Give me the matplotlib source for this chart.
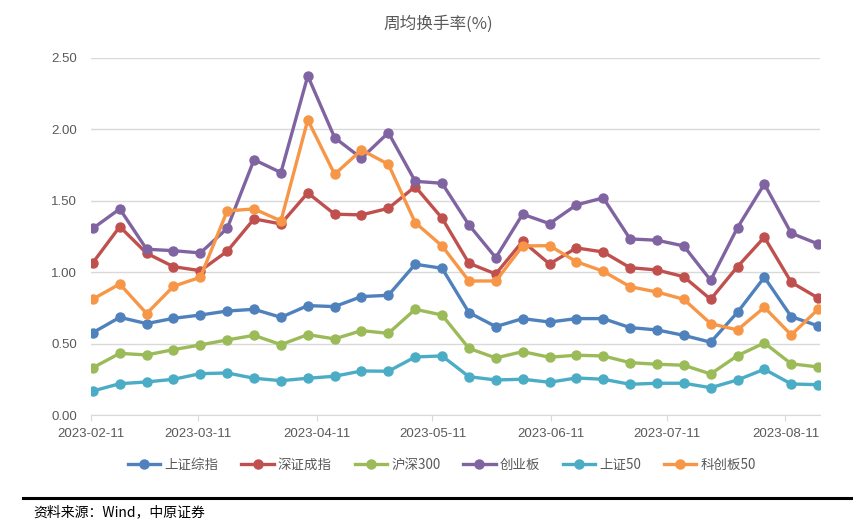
import numpy as np
import pandas as pd
import matplotlib
matplotlib.use('Agg')
import matplotlib.pyplot as plt
import matplotlib.dates as mdates

plt.rcParams['font.family'] = ['Liberation Sans', 'Noto Sans CJK SC', 'DejaVu Sans']

# 周度日期（周六）
dates = pd.date_range('2023-02-11', periods=28, freq='7D')

names = ['上证综指', '深证成指', '沪深300', '创业板', '上证50', '科创板50']
colors = ['#4F81BD', '#C0504D', '#9BBB59', '#8064A2', '#4BACC6', '#F79646']

sh_comp = [0.578, 0.685, 0.641, 0.678, 0.701, 0.729, 0.741, 0.685, 0.767, 0.760,
           0.830, 0.839, 1.056, 1.028, 0.718, 0.620, 0.676, 0.652, 0.676, 0.676,
           0.613, 0.597, 0.559, 0.511, 0.720, 0.965, 0.690, 0.625]
sz_comp = [1.067, 1.319, 1.133, 1.039, 1.011, 1.147, 1.373, 1.338, 1.555, 1.406,
           1.401, 1.447, 1.599, 1.378, 1.063, 0.988, 1.217, 1.058, 1.170, 1.142,
           1.032, 1.016, 0.969, 0.811, 1.039, 1.245, 0.930, 0.820]
hs300 = [0.333, 0.433, 0.422, 0.459, 0.492, 0.527, 0.559, 0.494, 0.564, 0.534,
         0.592, 0.573, 0.741, 0.701, 0.468, 0.401, 0.445, 0.406, 0.420, 0.415,
         0.368, 0.357, 0.350, 0.289, 0.417, 0.506, 0.360, 0.338]
chinext = [1.307, 1.443, 1.161, 1.151, 1.135, 1.307, 1.787, 1.697, 2.373, 1.941,
           1.797, 1.976, 1.636, 1.622, 1.331, 1.102, 1.406, 1.340, 1.471, 1.520,
           1.233, 1.224, 1.184, 0.944, 1.312, 1.617, 1.273, 1.198]
sh50 = [0.170, 0.221, 0.233, 0.252, 0.291, 0.296, 0.259, 0.242, 0.259, 0.273,
        0.310, 0.308, 0.408, 0.415, 0.270, 0.247, 0.252, 0.231, 0.261, 0.252,
        0.217, 0.224, 0.224, 0.193, 0.247, 0.322, 0.219, 0.214]
star50 = [0.813, 0.918, 0.711, 0.902, 0.965, 1.429, 1.443, 1.359, 2.065, 1.685,
          1.855, 1.755, 1.347, 1.184, 0.939, 0.939, 1.184, 1.186, 1.074, 1.007,
          0.899, 0.862, 0.811, 0.641, 0.597, 0.755, 0.562, 0.741]

series = [sh_comp, sz_comp, hs300, chinext, sh50, star50]

fig = plt.figure(figsize=(8.54, 5.2), dpi=100)
ax = fig.add_axes([91 / 854, 1 - 415.3 / 520, (820 - 91) / 854, (415.3 - 57.7) / 520])

x = dates + pd.Timedelta(hours=12)  # 点位于当日中间
for vals, name, c in zip(series, names, colors):
    ax.plot(x, vals, color=c, lw=2.4, marker='o', ms=6.5, label=name)

ax.set_ylim(0, 2.5)
ax.set_yticks(np.arange(0, 2.51, 0.5))
ax.set_yticklabels(['%.2f' % v for v in np.arange(0, 2.51, 0.5)])
ax.set_xlim(pd.Timestamp('2023-02-11'), pd.Timestamp('2023-08-20'))
ax.xaxis.set_major_locator(mdates.MonthLocator(bymonthday=11))
ax.xaxis.set_major_formatter(mdates.DateFormatter('%Y-%m-%d'))

ax.grid(axis='y', color='#D9D9D9', lw=1)
ax.set_axisbelow(True)
for s in ['top', 'right', 'left']:
    ax.spines[s].set_visible(False)
ax.spines['bottom'].set_color('#D9D9D9')
ax.tick_params(axis='y', length=0, pad=10, labelsize=9.5, labelcolor='#595959')
ax.tick_params(axis='x', length=4, color='#D9D9D9', pad=5, labelsize=9.5, labelcolor='#595959')

fig.text(438 / 854, 1 - 24 / 520, '周均换手率(%)', ha='center', va='center',
         fontsize=12, color='#595959', family=['Noto Sans CJK SC', 'DejaVu Sans'])

leg = fig.legend(loc='center', bbox_to_anchor=(442 / 854, 1 - 465 / 520), ncol=6,
                 frameon=False, handlelength=2.4, columnspacing=1.7,
                 handletextpad=0.3, prop={'family': ['Noto Sans CJK SC', 'DejaVu Sans'], 'size': 9.7})
for t in leg.get_texts():
    t.set_color('#595959')

fig.add_artist(plt.Line2D([23 / 854, 1], [1 - 497.7 / 520] * 2, color='black', lw=2.2))
fig.text(33 / 854, 1 - 512 / 520, '资料来源：Wind，中原证券', ha='left', va='center',
         fontsize=10, color='black', family=['Noto Sans CJK SC', 'DejaVu Sans'])

fig.savefig('out.png', dpi=100)
